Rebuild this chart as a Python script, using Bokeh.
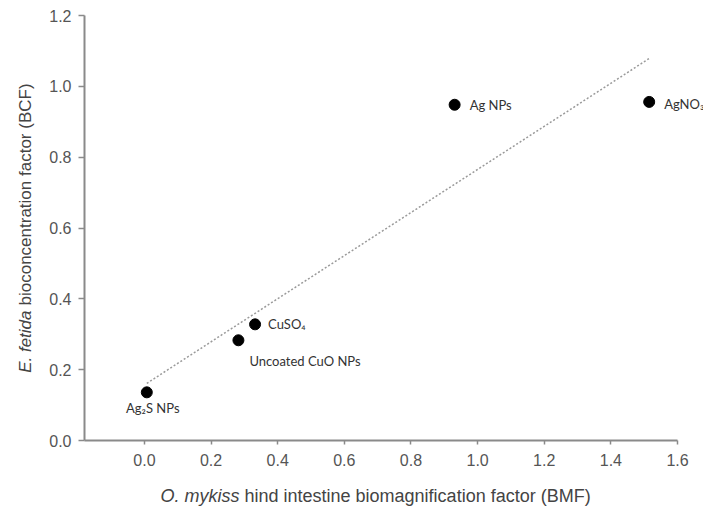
import numpy as np
from bokeh.plotting import figure
from bokeh.models import Range1d, FixedTicker, PrintfTickFormatter, Label, ColumnDataSource
from bokeh.core.properties import value
from bokeh.embed import file_html
from bokeh.resources import INLINE

# ---- data ----
compounds = ["Ag\u2082S NPs", "Uncoated CuO NPs", "CuSO\u2084", "Ag NPs", "AgNO\u2083"]
bmf = [0.007, 0.282, 0.332, 0.931, 1.515]
bcf = [0.136, 0.283, 0.328, 0.948, 0.956]
x_ticks = [0.0, 0.2, 0.4, 0.6, 0.8, 1.0, 1.2, 1.4, 1.6]
y_ticks = [0.0, 0.2, 0.4, 0.6, 0.8, 1.0, 1.2]

# label placement (pixels) relative to each point
lab_dx = [6, 11, 13, 15, 15]
lab_dy = [16, 21, 0, 0, 2]
lab_align = ["center", "left", "left", "left", "left"]

# ---- layout: the frame covers the whole canvas; axes are pinned inside ----
W, H = 703, 513
X0, X1, Y0, Y1 = -0.18, 1.6, 0.0, 1.2          # visible axis extents
AX_L, AX_R, AX_T, AX_B = 84, 677, 15, 440       # axis box in canvas pixels

def px_x(px):
    return X0 + (px - AX_L) / (AX_R - AX_L) * (X1 - X0)

def px_y(py):
    return Y1 - (py - AX_T) / (AX_B - AX_T) * (Y1 - Y0)

p = figure(width=W, height=H, output_backend="svg", toolbar_location=None,
           x_range=Range1d(px_x(0), px_x(W)), y_range=Range1d(px_y(H), px_y(0)),
           min_border=0)
p.outline_line_color = None
p.xgrid.visible = False
p.ygrid.visible = False
p.background_fill_color = "white"
p.border_fill_color = "white"

axis_color = "#8a8a8a"
tick_color = "#555555"
for ax in (p.xaxis[0], p.yaxis[0]):
    ax.axis_line_color = axis_color
    ax.axis_line_width = 2
    ax.major_tick_line_color = axis_color
    ax.major_tick_line_width = 1.5
    ax.minor_tick_line_color = None
    ax.major_label_text_font = "Liberation Sans"
    ax.major_label_text_font_size = "16px"
    ax.major_label_text_color = tick_color
    ax.formatter = PrintfTickFormatter(format="%.1f")

p.xaxis[0].fixed_location = Y0
p.xaxis[0].bounds = (X0, X1)
p.yaxis[0].fixed_location = X0
p.yaxis[0].bounds = (Y0, Y1)
p.xaxis[0].ticker = FixedTicker(ticks=x_ticks)
p.yaxis[0].ticker = FixedTicker(ticks=y_ticks)
p.xaxis[0].major_tick_in = 0
p.xaxis[0].major_tick_out = 4
p.xaxis[0].major_label_standoff = 9
p.yaxis[0].major_tick_in = 0
p.yaxis[0].major_tick_out = 6
p.yaxis[0].major_label_standoff = 7

# trend line (least squares fit over the data range)
slope, intercept = np.polyfit(bmf, bcf, 1)
xl = np.array([min(bmf), max(bmf)])
p.line(xl, slope * xl + intercept, line_color="#9a9a9a", line_width=1.5, line_dash="2 2")

src = ColumnDataSource(dict(x=bmf, y=bcf, t=compounds, dx=lab_dx, dy=lab_dy, al=lab_align))
p.scatter("x", "y", source=src, size=11, fill_color="black", line_color="black")
p.text("x", "y", text="t", source=src, x_offset="dx", y_offset="dy", text_align="al",
       text_baseline="middle", text_font=value("Lato"), text_font_size="13px",
       text_color="#333333")

# axis titles with italic species names
title_color = "#444444"
xs_split = 375 - 215 + 79
p.add_layout(Label(x=px_x(xs_split), y=px_y(495), text="O. mykiss", text_align="right",
                   text_baseline="middle", text_font="Liberation Sans", text_font_style="italic",
                   text_font_size="18px", text_color=title_color))
p.add_layout(Label(x=px_x(xs_split + 5), y=px_y(495), text="hind intestine biomagnification factor (BMF)",
                   text_align="left", text_baseline="middle", text_font="Liberation Sans",
                   text_font_size="18px", text_color=title_color))
ys_split = 227 + 145 - 62
p.add_layout(Label(x=px_x(25), y=px_y(ys_split), text="E. fetida", angle=np.pi / 2, text_align="right",
                   text_baseline="middle", text_font="Liberation Sans", text_font_style="italic",
                   text_font_size="17px", text_color=title_color))
p.add_layout(Label(x=px_x(25), y=px_y(ys_split - 5), text="bioconcentration factor (BCF)", angle=np.pi / 2,
                   text_align="left", text_baseline="middle", text_font="Liberation Sans",
                   text_font_size="17px", text_color=title_color))

open("out.html", "w").write(file_html(p, INLINE))
